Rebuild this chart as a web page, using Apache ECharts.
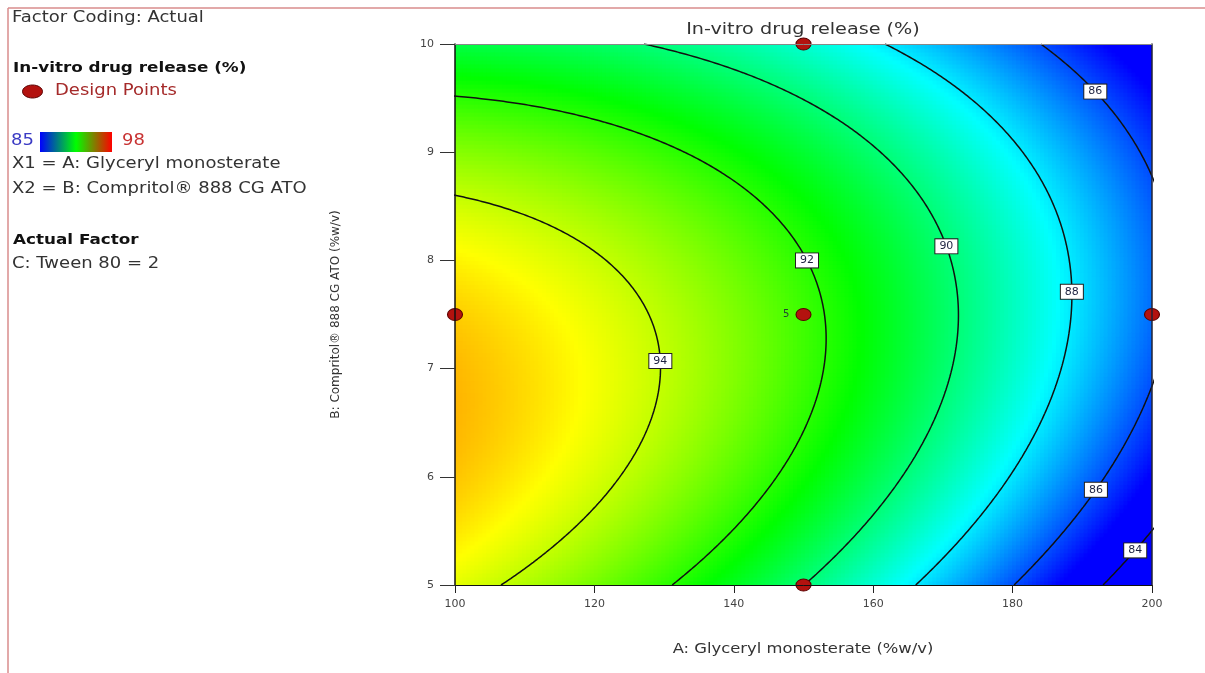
<!DOCTYPE html>
<html>
<head>
<meta charset="utf-8">
<script src="https://cdn.jsdelivr.net/npm/echarts@6/dist/echarts.min.js"></script>
<style>
  html, body { margin: 0; padding: 0; background: #fff; }
  #chart { width: 1205px; height: 673px; }
</style>
</head>
<body>
<div id="chart"></div>
<script>
// ---- Data ----------------------------------------------------------------
// Factor ranges (actual units)
const factorA = [100, 200];            // A: Glyceryl monosterate (%w/v)
const factorB = [5, 10];               // B: Compritol 888 CG ATO (%w/v)
const xTicks = [100, 120, 140, 160, 180, 200];
const yTicks = [5, 6, 7, 8, 9, 10];
const colorRange = [85, 98];           // response colour scale

// Contour levels of in-vitro drug release (%)
const contourLevels = [94, 92, 90, 88, 86, 84];
// Points [A, B] lying on each contour level
const contour94 = [[100, 8.61], [128.0, 7.45], [129.1, 7.08], [129.4, 6.71], [106.0, 5.0]];
const contour92 = [[100, 9.52], [146.2, 8.37], [150.9, 8.0], [151.6, 7.82], [153.4, 7.17], [131.1, 5.0]];
const contour90 = [[127.5, 10], [168.6, 8.37], [172.2, 7.63], [150.6, 5.0]];
const contour88 = [[161.4, 10], [178.2, 9.23], [188.2, 8.0], [188.5, 7.71], [187.5, 7.08], [175.3, 5.69], [166.6, 5.0]];
const contour86 = [[183.5, 10], [192.3, 9.56], [198.7, 8.95], [200, 8.83], [200, 6.78], [191.4, 5.88], [180.3, 5.0]];
const contour84 = [[200, 5.51], [196.8, 5.32], [193.7, 5.0]];
const contourTraces = [contour94, contour92, contour90, contour88, contour86, contour84];

// Box-Behnken design points (B vs A) and replicate counts
const designA = [100, 150, 200, 150, 150];
const designB = [7.5, 7.5, 7.5, 5, 10];
const designReps = [1, 5, 1, 1, 1];

// ---- Quadratic response surface fitted to the contour points -------------
const midA = (factorA[0] + factorA[1]) / 2, halfA = (factorA[1] - factorA[0]) / 2;
const midB = (factorB[0] + factorB[1]) / 2, halfB = (factorB[1] - factorB[0]) / 2;
function basis(A, B) {
  const a = (A - midA) / halfA, b = (B - midB) / halfB;
  return [1, a, b, a * b, a * a, b * b];
}
function fitSurface() {
  const n = 6;
  const M = Array.from({ length: n }, () => new Array(n).fill(0));
  const v = new Array(n).fill(0);
  contourLevels.forEach((L, k) => {
    contourTraces[k].forEach(([A, B]) => {
      const x = basis(A, B);
      for (let i = 0; i < n; i++) {
        v[i] += x[i] * L;
        for (let j = 0; j < n; j++) M[i][j] += x[i] * x[j];
      }
    });
  });
  // Gaussian elimination with partial pivoting
  for (let c = 0; c < n; c++) {
    let p = c;
    for (let r = c + 1; r < n; r++) if (Math.abs(M[r][c]) > Math.abs(M[p][c])) p = r;
    [M[c], M[p]] = [M[p], M[c]]; [v[c], v[p]] = [v[p], v[c]];
    for (let r = c + 1; r < n; r++) {
      const f = M[r][c] / M[c][c];
      for (let j = c; j < n; j++) M[r][j] -= f * M[c][j];
      v[r] -= f * v[c];
    }
  }
  const coef = new Array(n).fill(0);
  for (let r = n - 1; r >= 0; r--) {
    let s = v[r];
    for (let j = r + 1; j < n; j++) s -= M[r][j] * coef[j];
    coef[r] = s / M[r][r];
  }
  return coef;
}
const coef = fitSurface();
function response(A, B) {
  const x = basis(A, B);
  return x.reduce((s, xi, i) => s + xi * coef[i], 0);
}

// Solve response(A, B) = L for A on the falling branch
function levelA(L, B) {
  const b = (B - midB) / halfB;
  const p2 = coef[4], p1 = coef[1] + coef[3] * b, p0 = coef[0] + coef[2] * b + coef[5] * b * b - L;
  let roots;
  if (Math.abs(p2) < 1e-9) roots = [-p0 / p1];
  else {
    const d = p1 * p1 - 4 * p2 * p0;
    if (d < 0) return null;
    const s = Math.sqrt(d);
    roots = [(-p1 + s) / (2 * p2), (-p1 - s) / (2 * p2)];
  }
  const r = roots.filter(a => 2 * p2 * a + p1 < 0);
  if (!r.length) return null;
  return midA + halfA * r[0];
}

// ---- Surface cells -------------------------------------------------------
const NX = 175, NY = 135;
const cellA = (factorA[1] - factorA[0]) / NX, cellB = (factorB[1] - factorB[0]) / NY;
const cells = [];
for (let i = 0; i < NX; i++) {
  const A = factorA[0] + (i + 0.5) * cellA;
  for (let j = 0; j < NY; j++) {
    const B = factorB[0] + (j + 0.5) * cellB;
    cells.push([A, B, response(A, B)]);
  }
}
function renderCell(params, api) {
  const A = api.value(0), B = api.value(1);
  const p1 = api.coord([A - cellA / 2, B + cellB / 2]);
  const p2 = api.coord([A + cellA / 2, B - cellB / 2]);
  return {
    type: 'rect',
    shape: { x: p1[0] - 0.5, y: p1[1] - 0.5, width: p2[0] - p1[0] + 1, height: p2[1] - p1[1] + 1 },
    style: { fill: api.visual('color'), stroke: null }
  };
}

// ---- Contour polylines ---------------------------------------------------
const FONT = 'DejaVu Sans';
const contourSeries = [];
contourLevels.forEach(L => {
  let run = [];
  const flush = () => {
    if (run.length > 1) {
      contourSeries.push({
        type: 'line', xAxisIndex: 0, yAxisIndex: 0, data: run,
        showSymbol: false, symbol: 'none', clip: true, silent: true, z: 3,
        lineStyle: { color: '#111', width: 1.5 }, animation: false
      });
    }
    run = [];
  };
  for (let k = 0; k <= 1000; k++) {
    const B = factorB[0] + k * (factorB[1] - factorB[0]) / 1000;
    const A = levelA(L, B);
    if (A === null || A < 20 || A > 280) { flush(); continue; }
    run.push([A, B]);
  }
  flush();
});

// Contour tags: level and the B value where the tag sits
const labelAnchors = [[94, 7.07], [92, 8.0], [90, 8.13], [88, 7.71], [86, 9.56], [86, 5.88], [84, 5.32]];
const labelData = labelAnchors.map(([L, B]) => [levelA(L, B), B, L]);

const designData = designA.map((A, i) => ({
  value: [A, designB[i], designReps[i]],
  label: { show: designReps[i] > 1 }
}));

// ---- Chart ---------------------------------------------------------------
const chart = echarts.init(document.getElementById('chart'), null, { renderer: 'canvas' });

function panelText(x, y, text, fill, font, extra) {
  return Object.assign({
    type: 'text', x: x, y: y, scaleX: 1.2, z: 20,
    style: { text: text, fill: fill, font: font, textVerticalAlign: 'middle' }
  }, extra || {});
}

chart.setOption({
  animation: false,
  backgroundColor: '#fff',
  grid: { left: 455, top: 44, width: 697, height: 541, containLabel: false },
  visualMap: {
    show: false, type: 'continuous', seriesIndex: 0, dimension: 2,
    min: colorRange[0], max: colorRange[1],
    inRange: { color: ['#0000ff', '#00ffff', '#00ff00', '#ffff00', '#ff0000'] }
  },
  xAxis: [
    {
      type: 'value', min: factorA[0], max: factorA[1], interval: 20, position: 'bottom', z: 10,
      axisLine: { show: true, onZero: false, lineStyle: { color: '#111', width: 1 } },
      axisTick: { show: true, length: 8, lineStyle: { color: '#222' } },
      axisLabel: { fontSize: 11, color: '#444', margin: 14, fontFamily: FONT,
        formatter: v => xTicks.includes(v) ? String(v) : '' },
      splitLine: { show: false }
    },
    {
      type: 'value', min: factorA[0], max: factorA[1], position: 'top', z: 10,
      axisLine: { show: true, onZero: false, lineStyle: { color: '#888', width: 1 } },
      axisTick: { show: false }, axisLabel: { show: false }, splitLine: { show: false }
    }
  ],
  yAxis: [
    {
      type: 'value', min: factorB[0], max: factorB[1], interval: 1, position: 'left', z: 10,
      axisLine: { show: true, onZero: false, lineStyle: { color: '#111', width: 1.5 } },
      axisTick: { show: true, length: 15, lineStyle: { color: '#333' } },
      axisLabel: { fontSize: 11, color: '#444', margin: 21, fontFamily: FONT,
        formatter: v => yTicks.includes(v) ? String(v) : '' },
      splitLine: { show: false },
      name: 'B: Compritol® 888 CG ATO (%w/v)', nameLocation: 'middle', nameGap: 113,
      nameTextStyle: { fontSize: 12, color: '#333', fontFamily: FONT }
    },
    {
      type: 'value', min: factorB[0], max: factorB[1], position: 'right', z: 10,
      axisLine: { show: true, onZero: false, lineStyle: { color: '#223', width: 1.5 } },
      axisTick: { show: false }, axisLabel: { show: false }, splitLine: { show: false }
    }
  ],
  series: [
    {
      type: 'custom', xAxisIndex: 0, yAxisIndex: 0, data: cells, silent: true,
      encode: { x: 0, y: 1 }, renderItem: renderCell, progressive: 0, clip: true, z: 1
    },
    ...contourSeries,
    {
      type: 'scatter', xAxisIndex: 0, yAxisIndex: 0, data: labelData, silent: true, z: 5,
      symbol: 'rect', symbolSize: 1, itemStyle: { color: 'rgba(0,0,0,0)', opacity: 1 },
      label: {
        show: true, position: 'inside', formatter: p => String(p.value[2]),
        fontSize: 11, fontFamily: FONT, color: '#1d2240', opacity: 1,
        backgroundColor: '#ffffff', borderColor: '#222', borderWidth: 1, padding: [2, 4, 1, 4]
      }
    },
    {
      type: 'scatter', xAxisIndex: 0, yAxisIndex: 0, data: designData, clip: false, silent: true, z: 6,
      symbol: 'circle', symbolSize: [15, 12],
      itemStyle: { color: '#b3120f', borderColor: '#5a0000', borderWidth: 1, opacity: 1 },
      label: { position: 'left', distance: 6, fontSize: 10, color: '#243', fontFamily: FONT,
        formatter: p => String(p.value[2]) }
    }
  ],
  graphic: [
    // page frame
    { type: 'line', shape: { x1: 8, y1: 8, x2: 1205, y2: 8 }, style: { stroke: '#d98c8c', lineWidth: 1.5 }, z: 20 },
    { type: 'line', shape: { x1: 8, y1: 8, x2: 8, y2: 673 }, style: { stroke: '#d98c8c', lineWidth: 1.5 }, z: 20 },
    // plot title and x-axis title
    panelText(803, 30, '', '#333', '', { style: { text: 'In-vitro drug release (%)', fill: '#333', font: '16px "DejaVu Sans"', textAlign: 'center', textVerticalAlign: 'middle' } }),
    panelText(803, 649, '', '#333', '', { scaleX: 1.17, style: { text: 'A: Glyceryl monosterate (%w/v)', fill: '#333', font: '14px "DejaVu Sans"', textAlign: 'center', textVerticalAlign: 'middle' } }),
    // left information panel
    panelText(12, 18, 'Factor Coding: Actual', '#333', '15px "DejaVu Sans"'),
    panelText(13, 68, 'In-vitro drug release (%)', '#111', 'bold 14px "DejaVu Sans"'),
    { type: 'ellipse', shape: { cx: 32.5, cy: 91.5, rx: 10, ry: 6.5 }, style: { fill: '#b3120f', stroke: '#5a0000', lineWidth: 1 }, z: 20 },
    panelText(55, 91, 'Design Points', '#a52a2a', '15px "DejaVu Sans"'),
    panelText(11, 141, String(colorRange[0]), '#3b3bc4', '15px "DejaVu Sans"'),
    {
      type: 'rect', shape: { x: 40, y: 132, width: 72, height: 20 }, z: 20,
      style: {
        fill: new echarts.graphic.LinearGradient(0, 0, 1, 0, [
          { offset: 0, color: '#0000ff' }, { offset: 0.5, color: '#00ff00' }, { offset: 1, color: '#ff0000' }
        ])
      }
    },
    panelText(122, 141, String(colorRange[1]), '#c83232', '15px "DejaVu Sans"'),
    panelText(12, 164, 'X1 = A: Glyceryl monosterate', '#333', '15px "DejaVu Sans"'),
    panelText(12, 189, 'X2 = B: Compritol® 888 CG ATO', '#333', '15px "DejaVu Sans"'),
    panelText(13, 240, 'Actual Factor', '#111', 'bold 14px "DejaVu Sans"'),
    panelText(12, 264, 'C: Tween 80 = 2', '#333', '15px "DejaVu Sans"')
  ]
});
</script>
</body>
</html>
